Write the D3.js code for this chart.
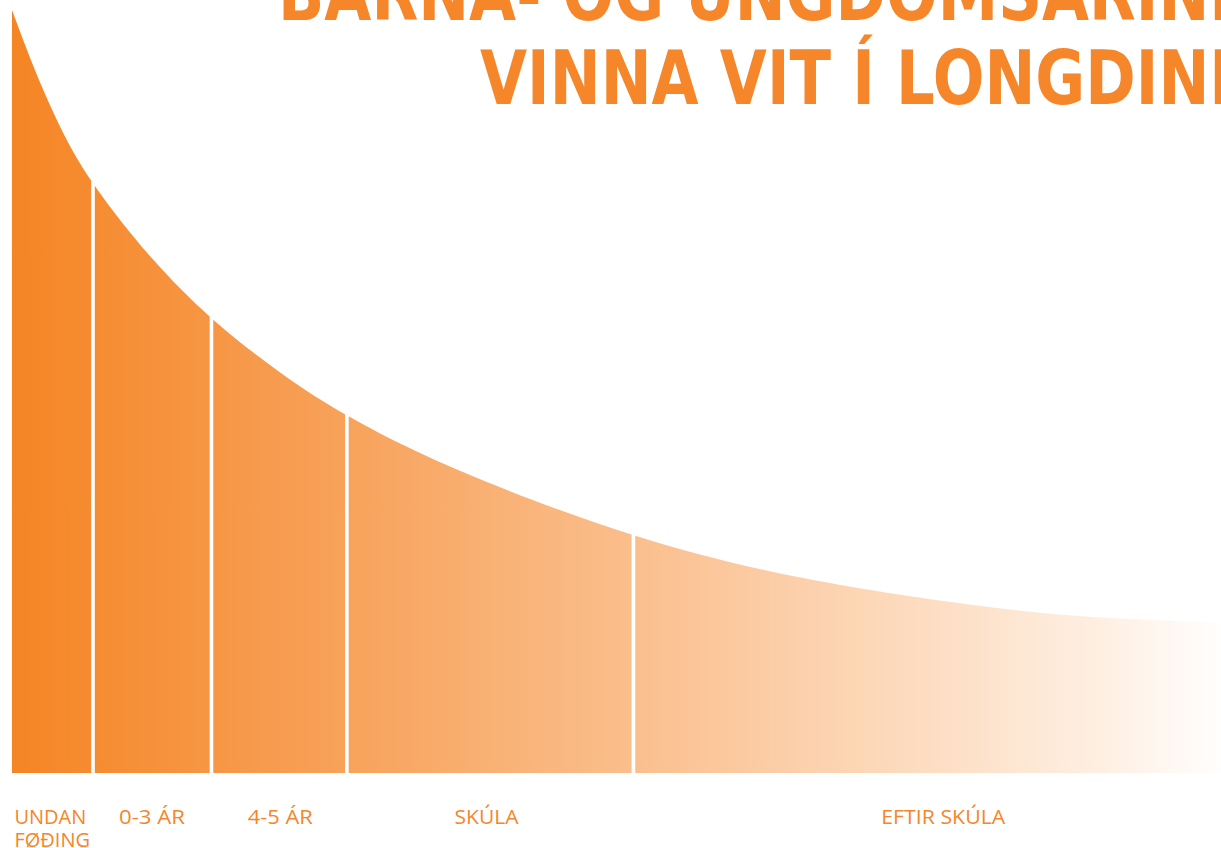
<!DOCTYPE html>
<html>
<head>
<meta charset="utf-8">
<script src="https://cdn.jsdelivr.net/npm/d3@7"></script>
<style>
  html, body { margin: 0; padding: 0; background: #fff; overflow: hidden; }
  svg { display: block; }
</style>
</head>
<body>
<script>
const W = 1221, H = 848;

// stages along the life line, and where each one ends (0-100 along the axis)
const stages = ["UNDAN FØÐING", "0-3 ÁR", "4-5 ÁR", "SKÚLA", "EFTIR SKÚLA"];
const stageEnd = [6.7, 16.5, 27.7, 51.4, 100];
const labelAt = [0.2, 8.85, 19.5, 36.6, 71.9];

// the decaying curve (position, value)
const curveT = [0, 1.7, 3.1, 4.5, 6.5, 11.4, 16.5, 22.2, 27.6, 36.2, 51.4, 65.2, 81.7, 90, 100];
const curveV = [100, 92.8, 87.6, 82.9, 77.4, 67.4, 59.3, 52.3, 46.7, 39.8, 30.7, 25.2, 21.4, 20.3, 19.7];

const titleLines = ["BARNA- OG UNGDÓMSÁRINI", "VINNA VIT Í LONGDINI"];

const orange = "#f5862a";

const svg = d3.select("body").append("svg")
  .attr("width", W)
  .attr("height", H);

const x = d3.scaleLinear().domain([0, 100]).range([12, 1221]);
const y = d3.scaleLinear().domain([0, 100]).range([773, 10]);

// gradient fill, deep orange to white
const defs = svg.append("defs");
const grad = defs.append("linearGradient")
  .attr("id", "fade")
  .attr("gradientUnits", "userSpaceOnUse")
  .attr("x1", x(0)).attr("x2", x(100))
  .attr("y1", 0).attr("y2", 0);
[[0, "#f58524"], [0.25, "#f79f55"], [0.5, "#fabd8a"], [0.75, "#fddcc0"], [0.9, "#feefe2"], [1, "#fffefd"]]
  .forEach(s => grad.append("stop").attr("offset", s[0]).attr("stop-color", s[1]));

const pts = curveT.map((t, i) => ({t: t, v: curveV[i]}));

const area = d3.area()
  .x(d => x(d.t))
  .y0(y(0))
  .y1(d => y(d.v))
  .curve(d3.curveBasis);

svg.append("path")
  .datum(pts)
  .attr("d", area)
  .attr("fill", "url(#fade)");

// white gaps between stages
svg.selectAll(".sep")
  .data(stageEnd.slice(0, -1))
  .enter().append("line")
  .attr("class", "sep")
  .attr("x1", d => x(d)).attr("x2", d => x(d))
  .attr("y1", y(0) + 2).attr("y2", 0)
  .attr("stroke", "#fff")
  .attr("stroke-width", 3.6);

// stage labels
const labelWidth = [null, 66, 65, 64, 124];
const labels = svg.selectAll(".lab")
  .data(stages)
  .enter().append("text")
  .attr("class", "lab")
  .attr("x", (d, i) => x(labelAt[i]))
  .attr("y", 824)
  .attr("fill", orange)
  .style("font-family", "'Open Sans', sans-serif")
  .style("font-size", "20px");

labels.each(function(d, i) {
  const words = i === 0 ? d.split(" ") : [d];
  const t = d3.select(this);
  words.forEach((w, j) => {
    const s = t.append("tspan")
      .attr("x", x(labelAt[i]))
      .attr("dy", j === 0 ? 0 : 23)
      .text(w);
    if (labelWidth[i]) s.attr("textLength", labelWidth[i]).attr("lengthAdjust", "spacingAndGlyphs");
  });
});

// title, right aligned and running off the edge
const titleWidth = [954, 752];
const titleBase = [20, 104];
svg.selectAll(".title")
  .data(titleLines)
  .enter().append("text")
  .attr("class", "title")
  .attr("x", 1232)
  .attr("y", (d, i) => titleBase[i])
  .attr("text-anchor", "end")
  .attr("textLength", (d, i) => titleWidth[i])
  .attr("lengthAdjust", "spacingAndGlyphs")
  .attr("fill", orange)
  .style("font-family", "'DejaVu Sans', sans-serif")
  .style("font-weight", "bold")
  .style("font-size", "74px")
  .text(d => d);
</script>
</body>
</html>
